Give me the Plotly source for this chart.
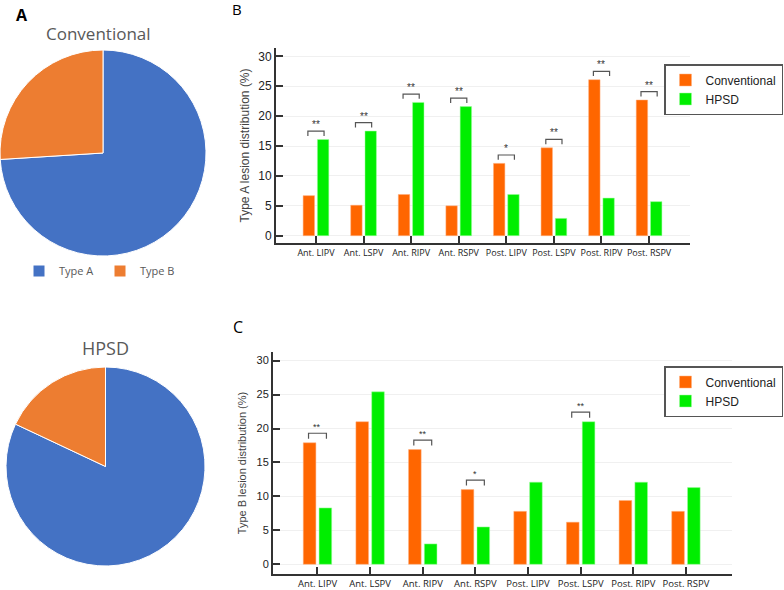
import plotly.graph_objects as go

# ---------------- data ----------------
pie_labels = ["Type A", "Type B"]
pie_conventional = [74, 26]
pie_hpsd = [82, 18]

sites = ["Ant. LIPV", "Ant. LSPV", "Ant. RIPV", "Ant. RSPV",
         "Post. LIPV", "Post. LSPV", "Post. RIPV", "Post. RSPV"]

typeA_conventional = [6.7, 5.1, 6.9, 5.0, 12.1, 14.7, 26.1, 22.7]
typeA_hpsd = [16.1, 17.5, 22.3, 21.6, 6.9, 2.9, 6.3, 5.7]
typeA_sig = ["**", "**", "**", "**", "*", "**", "**", "**"]

typeB_conventional = [17.9, 21.0, 16.9, 11.0, 7.8, 6.2, 9.4, 7.8]
typeB_hpsd = [8.3, 25.4, 3.0, 5.5, 12.1, 21.0, 12.1, 11.3]
typeB_sig = ["**", "", "**", "*", "", "**", "", ""]

y_ticks = [0, 5, 10, 15, 20, 25, 30]

# ---------------- styles ----------------
PIE_BLUE = "#4472C4"
PIE_ORANGE = "#ED7D31"
BAR_ORANGE = "#FF6600"
BAR_GREEN = "#00EE00"
W, H = 784, 590


def px_x(p):
    return p / W


def px_y(p):
    return 1 - p / H


fig = go.Figure()

# Pie charts
fig.add_trace(go.Pie(
    labels=pie_labels, values=pie_conventional, sort=False,
    direction="clockwise", rotation=0,
    marker=dict(colors=[PIE_BLUE, PIE_ORANGE], line=dict(color="white", width=1)),
    textinfo="none", hoverinfo="label+percent",
    domain=dict(x=[px_x(0), px_x(206)], y=[px_y(256), px_y(50)]),
    legend="legend3", name="Conventional",
))
fig.add_trace(go.Pie(
    labels=pie_labels, values=pie_hpsd, sort=False,
    direction="clockwise", rotation=0,
    marker=dict(colors=[PIE_BLUE, PIE_ORANGE], line=dict(color="white", width=1)),
    textinfo="none", hoverinfo="label+percent",
    domain=dict(x=[px_x(6), px_x(205)], y=[px_y(566), px_y(367)]),
    legend="legend4", name="HPSD",
))

# Bar chart B (Type A)
fig.add_trace(go.Bar(x=sites, y=typeA_conventional, name="Conventional",
                     marker=dict(color=BAR_ORANGE, line=dict(color="#ffb080", width=0.5)),
                     xaxis="x", yaxis="y", legend="legend"))
fig.add_trace(go.Bar(x=sites, y=typeA_hpsd, name="HPSD",
                     marker=dict(color=BAR_GREEN, line=dict(color="#a0ffa0", width=0.5)),
                     xaxis="x", yaxis="y", legend="legend"))

# Bar chart C (Type B)
fig.add_trace(go.Bar(x=sites, y=typeB_conventional, name="Conventional",
                     marker=dict(color=BAR_ORANGE, line=dict(color="#ffb080", width=0.5)),
                     xaxis="x2", yaxis="y2", legend="legend2"))
fig.add_trace(go.Bar(x=sites, y=typeB_hpsd, name="HPSD",
                     marker=dict(color=BAR_GREEN, line=dict(color="#a0ffa0", width=0.5)),
                     xaxis="x2", yaxis="y2", legend="legend2"))

shapes = []
annotations = []


def add_sig(conv, hpsd, sig, xref, yref, star_size):
    for i, s in enumerate(sig):
        if not s:
            continue
        top = max(conv[i], hpsd[i])
        y1 = top + 1.4
        y0 = top + 0.6
        x0, x1 = i - 0.17, i + 0.17
        shapes.append(dict(type="path", xref=xref, yref=yref,
                           path=f"M {x0},{y0} L {x0},{y1} L {x1},{y1} L {x1},{y0}",
                           line=dict(color="#555555", width=1.2)))
        annotations.append(dict(x=i, y=y1, xref=xref, yref=yref, text=s,
                                showarrow=False, yanchor="bottom", xanchor="center",
                                yshift=-1,
                                font=dict(size=star_size, color="#333333",
                                          family="Liberation Sans, Arial")))


add_sig(typeA_conventional, typeA_hpsd, typeA_sig, "x", "y", 10)
add_sig(typeB_conventional, typeB_hpsd, typeB_sig, "x2", "y2", 9)

# Panel letters and pie titles
title_font = "Open Sans, Liberation Sans"
annotations += [
    dict(x=px_x(22), y=px_y(15), text="<b>A</b>",
         font=dict(size=16, color="black", family=title_font)),
    dict(x=px_x(237), y=px_y(9), text="B",
         font=dict(size=15, color="black", family=title_font)),
    dict(x=px_x(238), y=px_y(327), text="C",
         font=dict(size=16, color="black", family=title_font)),
    dict(x=px_x(99), y=px_y(33), text="Conventional",
         font=dict(size=17, color="#595959", family=title_font)),
    dict(x=px_x(105), y=px_y(348), text="HPSD",
         font=dict(size=18, color="#595959", family=title_font)),
]
for a in annotations[-5:]:
    a.update(xref="paper", yref="paper", showarrow=False,
             xanchor="center", yanchor="middle")

axis_common = dict(showline=True, linecolor="#333333", linewidth=2,
                   ticks="inside", ticklen=7, tickcolor="#333333", tickwidth=1.5,
                   zeroline=False, automargin=False)

fig.update_layout(
    width=W, height=H,
    margin=dict(l=0, r=0, t=0, b=0, autoexpand=False),
    paper_bgcolor="white", plot_bgcolor="white",
    font=dict(family="Liberation Sans, Arial", color="#333333"),
    barmode="group", bargap=0.4, bargroupgap=0.2,
    xaxis=dict(domain=[px_x(276), px_x(690)], anchor="y", type="category",
               range=[-0.84, 7.86], showgrid=False, tickangle=0,
               tickfont=dict(size=9, family=title_font, color="#222222"),
               **axis_common),
    yaxis=dict(domain=[px_y(243), px_y(48)], anchor="x", range=[-1.22, 31.4],
               tickvals=y_ticks, showgrid=True, gridcolor="#f0f0f0", gridwidth=1,
               tickfont=dict(size=12, color="#222222"),
               title=dict(text="Type A lesion distribution (%)", standoff=6,
                          font=dict(size=12, color="#444444")),
               **axis_common),
    xaxis2=dict(domain=[px_x(273), px_x(732)], anchor="y2", type="category",
                range=[-0.845, 7.875], showgrid=False, tickangle=0,
                tickfont=dict(size=9.5, family=title_font, color="#222222"),
                **axis_common),
    yaxis2=dict(domain=[px_y(574), px_y(352)], anchor="x2", range=[-1.43, 31.27],
                tickvals=y_ticks, showgrid=True, gridcolor="#f0f0f0", gridwidth=1,
                tickfont=dict(size=11, color="#222222"),
                title=dict(text="Type B lesion distribution (%)", standoff=8,
                           font=dict(size=11, color="#444444")),
                **axis_common),
    legend=dict(x=px_x(783), y=px_y(64), xanchor="right", yanchor="top",
                bordercolor="#555555", borderwidth=1.5, bgcolor="white",
                font=dict(size=12, color="#222222"), tracegroupgap=0,
                itemwidth=30),
    legend2=dict(x=px_x(783), y=px_y(366), xanchor="right", yanchor="top",
                 bordercolor="#555555", borderwidth=1.5, bgcolor="white",
                 font=dict(size=12, color="#222222"), tracegroupgap=0,
                 itemwidth=30),
    legend3=dict(x=px_x(100), y=px_y(271), xanchor="center", yanchor="middle",
                 orientation="h", entrywidth=36,
                 font=dict(size=11, color="#595959", family=title_font)),
    legend4=dict(x=px_x(107), y=px_y(581), xanchor="center", yanchor="middle",
                 orientation="h", entrywidth=42,
                 font=dict(size=13, color="#595959", family=title_font)),
    shapes=shapes,
    annotations=annotations,
)

# remove the browser's default 8px body margin so the figure fills the window
fig.write_html("out.html",
               config={"displayModeBar": False},
               post_script="document.body.style.margin='0';"
                           "document.body.style.overflow='hidden';")
